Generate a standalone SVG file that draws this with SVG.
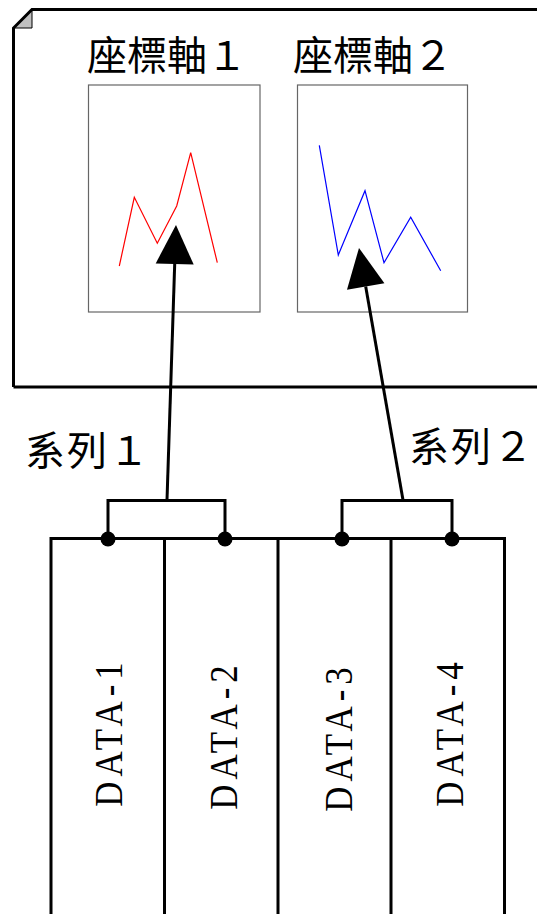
<svg xmlns="http://www.w3.org/2000/svg" width="537" height="914" viewBox="0 0 537 914">
<defs>
<style>
.thick{fill:none;stroke:#000;stroke-width:3}
.box{fill:#fff;stroke:#666;stroke-width:1.2}
.cjk{font-family:"Noto Sans CJK TC","Noto Sans CJK JP",sans-serif;font-size:40px;fill:#000}
.data{font-family:"Liberation Serif","Times New Roman",serif;font-size:41px;fill:#000;text-anchor:middle;letter-spacing:6px}
.dot{fill:#000}
</style>
<marker id="ah" markerUnits="userSpaceOnUse" markerWidth="40" markerHeight="40" refX="0" refY="0" orient="auto" overflow="visible">
<path d="M0,-19 L39,0 L0,19 Z" fill="#000"/>
</marker>
</defs>
<rect width="537" height="914" fill="#fff"/>
<g id="frame">
<path d="M13.5,28 L32,9.5 L32,28 Z" fill="#c0c0c0" stroke="#000" stroke-width="1"/>
<path class="thick" d="M13.5,387 V28 L32,9.5 H540"/>
<path class="thick" d="M13.5,387 H540"/>
</g>
<g id="axis1">
<text class="cjk" x="87" y="70">座標軸１</text>
<rect class="box" x="88.5" y="85" width="171.5" height="227"/>
<polyline points="119.3,266 134.3,197.3 157.3,243.3 176.7,206 190.7,152.7 217.3,262.7" fill="none" stroke="#ff0000" stroke-width="1.2"/>
</g>
<g id="axis2">
<text class="cjk" x="293" y="70">座標軸２</text>
<rect class="box" x="297.5" y="85" width="170" height="227"/>
<polyline points="319.3,145.3 338.3,255 365,190.7 384,262.7 410.7,217.3 440.7,270.7" fill="none" stroke="#0000ff" stroke-width="1.2"/>
</g>
<g id="series1">
<text class="cjk" x="25" y="465" letter-spacing="2">系列１</text>
</g>
<g id="series2">
<text class="cjk" x="409" y="461" letter-spacing="2">系列２</text>
</g>
<g id="data-row">
<path class="thick" d="M51,914 V538.5 H504.5 V914"/>
<path class="thick" d="M164.5,538.5 V914 M278,538.5 V914 M391,538.5 V914"/>
</g>
<g id="data1"><text class="data" transform="translate(122,732) rotate(-90) scale(0.85,1)">DATA-1</text></g>
<g id="data2"><text class="data" transform="translate(237,735) rotate(-90) scale(0.85,1)">DATA-2</text></g>
<g id="data3"><text class="data" transform="translate(352,737) rotate(-90) scale(0.85,1)">DATA-3</text></g>
<g id="data4"><text class="data" transform="translate(463,732) rotate(-90) scale(0.85,1)">DATA-4</text></g>
<g id="connectors">
<path class="thick" d="M108,539 V500.5 H225 V539"/>
<path class="thick" d="M342,539 V500.5 H452 V539"/>
<circle class="dot" cx="108" cy="539" r="7.5"/>
<circle class="dot" cx="225" cy="539" r="7.5"/>
<circle class="dot" cx="342" cy="539" r="7.5"/>
<circle class="dot" cx="452" cy="539" r="7.5"/>
<path class="thick" d="M167,500 L174.7,264" marker-end="url(#ah)"/>
<path class="thick" d="M403,500 L365.7,286.4" marker-end="url(#ah)"/>
</g>
</svg>
